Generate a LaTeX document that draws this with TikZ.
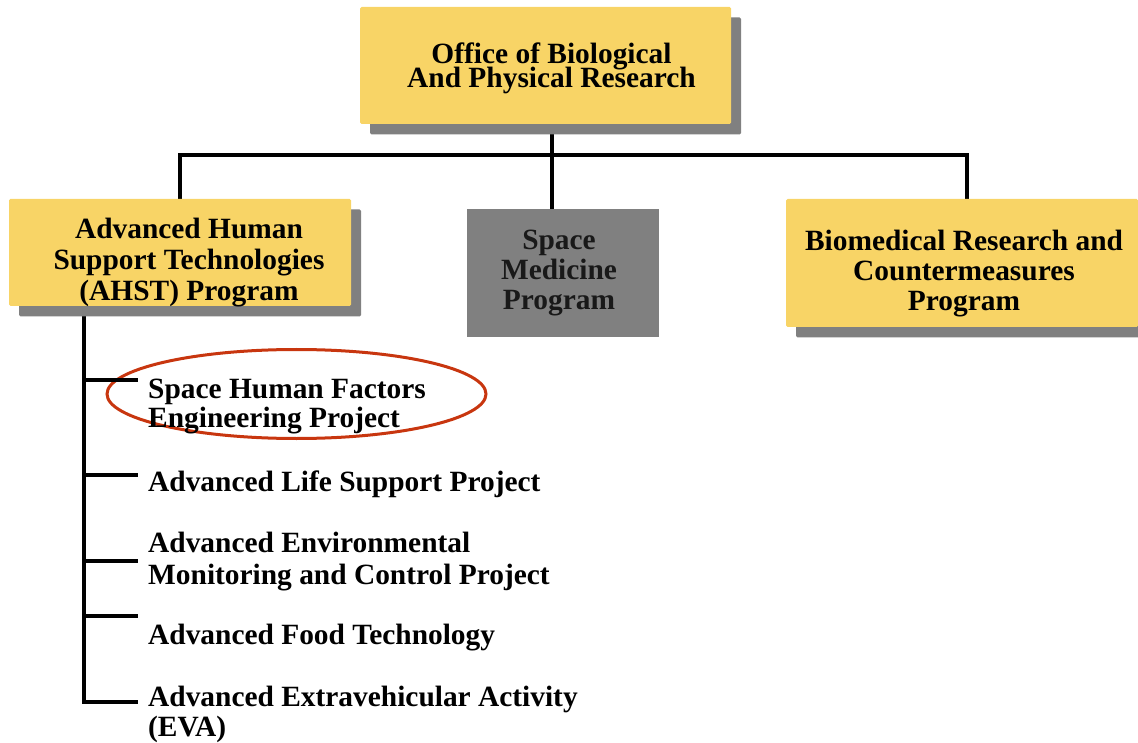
\documentclass[tikz,border=0pt]{standalone}
\usepackage{fontspec}
\setmainfont{Liberation Serif}
\usetikzlibrary{shapes.geometric,shadows,backgrounds}
\definecolor{boxyellow}{HTML}{F8D466}
\definecolor{shadowgray}{HTML}{808080}
\definecolor{hlred}{HTML}{C8360F}
\newcommand{\boxfont}[1]{\bfseries\fontsize{29.4}{#1}\selectfont\lineskiplimit-50pt\relax}
\begin{document}
\begin{tikzpicture}[x=1pt,y=-1pt,
  conn/.style={line width=3.8pt},
  ybox/.style={fill=boxyellow, rounded corners=1.5pt, inner sep=0pt,
     drop shadow={shadow xshift=10pt,shadow yshift=-10.5pt,fill=shadowgray,opacity=1}},
  gbox/.style={fill=shadowgray, inner sep=0pt},
  txt/.style={inner sep=0pt, align=center, font={\boxfont{#1}}},
  txt/.default=30,
  item/.style={inner sep=0pt, align=left, anchor=west, font={\boxfont{#1}}},
  item/.default=30,
  hl/.style={ellipse, draw=hlred, line width=3pt, inner sep=0pt}
]
\useasboundingbox (0,0) rectangle (1138,743);
% boxes
\node[ybox, minimum width=371pt, minimum height=117pt] (top) at (545.5,65.5) {};
\node[ybox, minimum width=342pt, minimum height=107pt] (ahst) at (180,252.5) {};
\node[gbox, minimum width=192pt, minimum height=128pt] (med) at (563,273) {};
\node[ybox, minimum width=352pt, minimum height=128pt] (bio) at (962,263) {};
% box texts
\node[txt=24] (topT) at (551.5,68) {Office of Biological\\And Physical Research};
\node[txt=31] (ahstT) at (189,262.2) {Advanced Human\\Support Technologies\\(AHST) Program};
\node[txt=30, text=black!90] (medT) at (559,273.3) {Space\\Medicine\\Program};
\node[txt=30] (bioT) at (964,273.3) {Biomedical Research and\\Countermeasures\\Program};
% items
\node[item=29] (i1) at (148,406.9) {Space Human Factors\\Engineering Project};
\node[item] (i2) at (148,484.3) {Advanced Life Support Project};
\node[item=32] (i3) at (148,561.2) {Advanced Environmental\\Monitoring and Control Project};
\node[item] (i4) at (148,637.2) {Advanced Food Technology};
\node[item=30] (i5) at (148,714.7) {Advanced Extravehicular Activity\\(EVA)};
% connectors
\coordinate (bus) at (552,155);
\coordinate (rtop) at (967,199);
\coordinate (tk) at (84,306);
\coordinate (b1) at (138,380);
\coordinate (b2) at (138,475);
\coordinate (b3) at (138,561);
\coordinate (b4) at (138,616);
\coordinate (b5) at (138,702);
\begin{pgfonlayer}{background}
  \node[hl, minimum width=379pt, minimum height=89pt] (hlE) at (296.5,394) {};
  \draw[conn] (bus |- top.south) -- (bus |- med.north);
  \draw[conn] (ahst.north) |- (bus) -| (rtop);
  \draw[conn] (tk) |- (b5);
  \foreach \b in {b1,b2,b3,b4} \draw[conn] (tk |- \b) -- (\b);
\end{pgfonlayer}
\end{tikzpicture}
\end{document}
